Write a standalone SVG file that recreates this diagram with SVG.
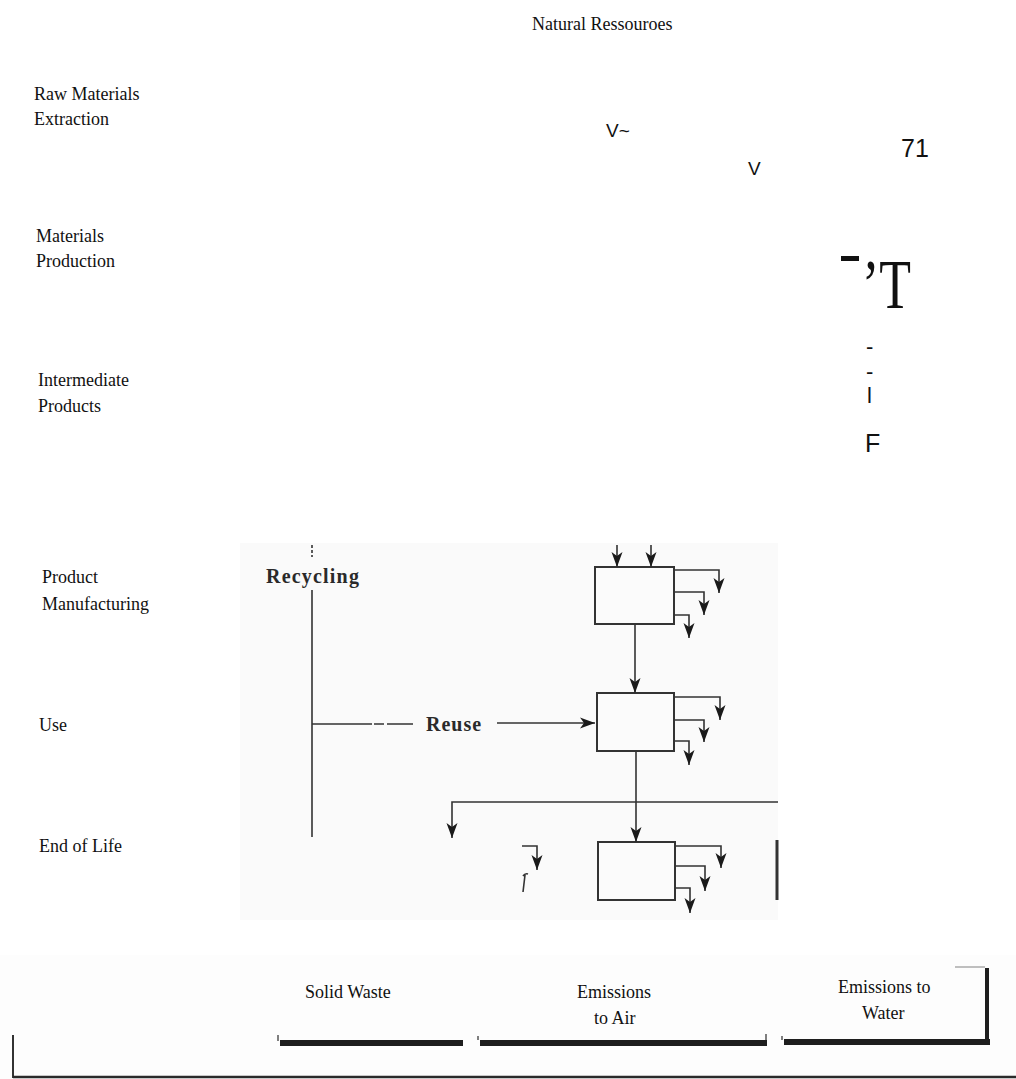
<svg xmlns="http://www.w3.org/2000/svg" width="1016" height="1079" viewBox="0 0 1016 1079">
<style>
.lbl{font-family:"Liberation Serif","Times New Roman",serif;font-size:18px;fill:#111}
.bold{font-family:"Liberation Serif","Times New Roman",serif;font-size:20px;font-weight:bold;fill:#2a2a2a}
.sans{font-family:"Liberation Sans",Arial,sans-serif;fill:#111}
.ln{stroke:#333;stroke-width:1.6;fill:none}
.box{stroke:#333;stroke-width:2;fill:#fbfbfb}
.thick{stroke:#1e1e1e;stroke-width:6;fill:none}
</style>
<defs>
<marker id="ah" markerUnits="userSpaceOnUse" markerWidth="16" markerHeight="12" viewBox="0 0 16 12" refX="15" refY="6" orient="auto">
<path d="M0,0.5 L15,6 L0,11.5 L4,6 Z" fill="#1a1a1a"/>
</marker>
</defs>
<rect x="0" y="0" width="1016" height="1079" fill="#ffffff"/>
<rect x="240" y="543" width="538" height="377" fill="#fafafa"/>
<rect x="0" y="955" width="1016" height="124" fill="#fdfdfd"/>

<g id="stage-labels">
<text class="lbl" x="532" y="30">Natural Ressouroes</text>
<text class="lbl" x="34" y="100">Raw Materials</text>
<text class="lbl" x="34" y="125">Extraction</text>
<text class="lbl" x="36" y="242">Materials</text>
<text class="lbl" x="36" y="267">Production</text>
<text class="lbl" x="38" y="386">Intermediate</text>
<text class="lbl" x="38" y="412">Products</text>
<text class="lbl" x="42" y="583">Product</text>
<text class="lbl" x="42" y="610">Manufacturing</text>
<text class="lbl" x="39" y="731">Use</text>
<text class="lbl" x="39" y="852">End of Life</text>
</g>

<g id="fragments">
<text class="sans" x="606" y="137" font-size="19">V~</text>
<text class="sans" x="748" y="175" font-size="19">V</text>
<text class="sans" x="901" y="157" font-size="25">71</text>
<rect x="841" y="256" width="18" height="5" fill="#111"/>
<text x="862" y="308" font-family="Liberation Serif,Times New Roman,serif" font-size="70" textLength="49" lengthAdjust="spacingAndGlyphs" fill="#111">’T</text>
<text class="sans" x="866" y="354" font-size="22">-</text>
<text class="sans" x="866" y="379" font-size="22">-</text>
<text class="sans" x="867" y="403" font-size="22">l</text>
<text class="sans" x="865" y="452" font-size="25">F</text>
</g>

<g id="recycling">
<text class="bold" x="266" y="583" letter-spacing="1.2">Recycling</text>
</g>
<g id="reuse">
<text class="bold" x="426" y="731" letter-spacing="1">Reuse</text>
</g>
<g id="box1"><rect class="box" x="595" y="567" width="79" height="57"/></g>
<g id="box2"><rect class="box" x="597" y="693" width="77" height="58"/></g>
<g id="box3"><rect class="box" x="598" y="842" width="77" height="58"/></g>

<g id="connectors">
<line class="ln" x1="312" y1="545" x2="312" y2="557" stroke-dasharray="3 2"/>
<line class="ln" x1="312" y1="590" x2="312" y2="837"/>
<line class="ln" x1="312" y1="724" x2="413" y2="724" stroke-dasharray="60 2 10 3 26"/>
<line class="ln" x1="497" y1="723" x2="595" y2="723" marker-end="url(#ah)"/>
<line class="ln" x1="617" y1="545" x2="617" y2="567" marker-end="url(#ah)"/>
<line class="ln" x1="651" y1="545" x2="651" y2="567" marker-end="url(#ah)"/>
<path class="ln" d="M674,570 H719 V593" marker-end="url(#ah)"/>
<path class="ln" d="M674,592 H704 V615" marker-end="url(#ah)"/>
<path class="ln" d="M674,615 H689 V638" marker-end="url(#ah)"/>
<line class="ln" x1="635" y1="624" x2="635" y2="693" marker-end="url(#ah)"/>
<path class="ln" d="M674,697 H720 V720" marker-end="url(#ah)"/>
<path class="ln" d="M674,720 H704 V742" marker-end="url(#ah)"/>
<path class="ln" d="M674,741 H689 V765" marker-end="url(#ah)"/>
<line class="ln" x1="636" y1="751" x2="636" y2="842" marker-end="url(#ah)"/>
<path class="ln" d="M778,802 H452 V838" marker-end="url(#ah)"/>
<path class="ln" d="M675,846 H721 V868" marker-end="url(#ah)"/>
<path class="ln" d="M675,866 H705 V891" marker-end="url(#ah)"/>
<path class="ln" d="M675,888 H690 V913" marker-end="url(#ah)"/>
<path class="ln" d="M522,846 H537 V870" marker-end="url(#ah)"/>
<path class="ln" d="M523,876 Q525,873 528,874 M525,875 L523,892" stroke-width="2"/>
<line x1="777" y1="840" x2="777" y2="900" stroke="#333" stroke-width="3"/>

<path d="M278,1035 V1041" stroke="#555" stroke-width="1.5"/>
<line class="thick" x1="280" y1="1043" x2="463" y2="1043"/>
<line class="thick" x1="480" y1="1043" x2="767" y2="1043"/>
<path d="M478,1036 V1040 M766,1034 V1040" stroke="#555" stroke-width="1.5"/>
<line class="thick" x1="784" y1="1042" x2="990" y2="1042"/>
<path d="M782,1036 V1040" stroke="#555" stroke-width="1.5"/>
<line x1="987" y1="968" x2="987" y2="1045" stroke="#1e1e1e" stroke-width="4"/>
<line x1="955" y1="967" x2="985" y2="967" stroke="#aaa" stroke-width="1.5"/>
<line x1="13" y1="1035" x2="13" y2="1078" stroke="#333" stroke-width="2"/>
<line x1="13" y1="1077" x2="1016" y2="1077" stroke="#2a2a2a" stroke-width="2.5"/>
</g>

<g id="outputs">
<text class="lbl" x="305" y="998">Solid Waste</text>
<text class="lbl" x="577" y="998">Emissions</text>
<text class="lbl" x="594" y="1024">to Air</text>
<text class="lbl" x="838" y="993">Emissions to</text>
<text class="lbl" x="862" y="1019">Water</text>
</g>
</svg>
